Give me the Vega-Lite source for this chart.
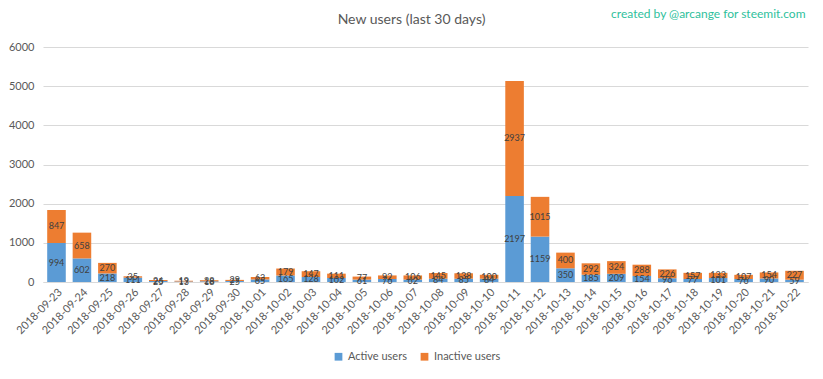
{
  "$schema": "https://vega.github.io/schema/vega-lite/v6.json",
  "autosize": {"type": "none"},
  "width": 765,
  "height": 235,
  "padding": {"left": 43, "top": 47, "right": 15, "bottom": 97},
  "background": "white",
  "title": {"text": "New users (last 30 days)", "anchor": "middle", "dx": -14, "offset": 0, "dy": 20, "fontSize": 14, "fontWeight": "normal", "color": "#595959", "font": "Lato"},
  "config": {
    "font": "Lato",
    "view": {"stroke": null},
    "axis": {"labelFont": "Lato", "titleFont": "Lato"}
  },
  "data": {"values": [
    {"date": "2018-09-23", "series": "Active users", "value": 994}, {"date": "2018-09-23", "series": "Inactive users", "value": 847},
    {"date": "2018-09-24", "series": "Active users", "value": 602}, {"date": "2018-09-24", "series": "Inactive users", "value": 658},
    {"date": "2018-09-25", "series": "Active users", "value": 218}, {"date": "2018-09-25", "series": "Inactive users", "value": 270},
    {"date": "2018-09-26", "series": "Active users", "value": 111}, {"date": "2018-09-26", "series": "Inactive users", "value": 35},
    {"date": "2018-09-27", "series": "Active users", "value": 25}, {"date": "2018-09-27", "series": "Inactive users", "value": 26},
    {"date": "2018-09-28", "series": "Active users", "value": 13}, {"date": "2018-09-28", "series": "Inactive users", "value": 19},
    {"date": "2018-09-29", "series": "Active users", "value": 18}, {"date": "2018-09-29", "series": "Inactive users", "value": 28},
    {"date": "2018-09-30", "series": "Active users", "value": 25}, {"date": "2018-09-30", "series": "Inactive users", "value": 29},
    {"date": "2018-10-01", "series": "Active users", "value": 65}, {"date": "2018-10-01", "series": "Inactive users", "value": 63},
    {"date": "2018-10-02", "series": "Active users", "value": 165}, {"date": "2018-10-02", "series": "Inactive users", "value": 179},
    {"date": "2018-10-03", "series": "Active users", "value": 128}, {"date": "2018-10-03", "series": "Inactive users", "value": 147},
    {"date": "2018-10-04", "series": "Active users", "value": 102}, {"date": "2018-10-04", "series": "Inactive users", "value": 111},
    {"date": "2018-10-05", "series": "Active users", "value": 61}, {"date": "2018-10-05", "series": "Inactive users", "value": 77},
    {"date": "2018-10-06", "series": "Active users", "value": 76}, {"date": "2018-10-06", "series": "Inactive users", "value": 92},
    {"date": "2018-10-07", "series": "Active users", "value": 62}, {"date": "2018-10-07", "series": "Inactive users", "value": 106},
    {"date": "2018-10-08", "series": "Active users", "value": 84}, {"date": "2018-10-08", "series": "Inactive users", "value": 145},
    {"date": "2018-10-09", "series": "Active users", "value": 85}, {"date": "2018-10-09", "series": "Inactive users", "value": 138},
    {"date": "2018-10-10", "series": "Active users", "value": 84}, {"date": "2018-10-10", "series": "Inactive users", "value": 100},
    {"date": "2018-10-11", "series": "Active users", "value": 2197}, {"date": "2018-10-11", "series": "Inactive users", "value": 2937},
    {"date": "2018-10-12", "series": "Active users", "value": 1159}, {"date": "2018-10-12", "series": "Inactive users", "value": 1015},
    {"date": "2018-10-13", "series": "Active users", "value": 350}, {"date": "2018-10-13", "series": "Inactive users", "value": 400},
    {"date": "2018-10-14", "series": "Active users", "value": 185}, {"date": "2018-10-14", "series": "Inactive users", "value": 292},
    {"date": "2018-10-15", "series": "Active users", "value": 209}, {"date": "2018-10-15", "series": "Inactive users", "value": 324},
    {"date": "2018-10-16", "series": "Active users", "value": 154}, {"date": "2018-10-16", "series": "Inactive users", "value": 288},
    {"date": "2018-10-17", "series": "Active users", "value": 96}, {"date": "2018-10-17", "series": "Inactive users", "value": 226},
    {"date": "2018-10-18", "series": "Active users", "value": 77}, {"date": "2018-10-18", "series": "Inactive users", "value": 157},
    {"date": "2018-10-19", "series": "Active users", "value": 101}, {"date": "2018-10-19", "series": "Inactive users", "value": 133},
    {"date": "2018-10-20", "series": "Active users", "value": 76}, {"date": "2018-10-20", "series": "Inactive users", "value": 107},
    {"date": "2018-10-21", "series": "Active users", "value": 90}, {"date": "2018-10-21", "series": "Inactive users", "value": 154},
    {"date": "2018-10-22", "series": "Active users", "value": 59}, {"date": "2018-10-22", "series": "Inactive users", "value": 227}
  ]},
  "encoding": {
    "x": {
      "field": "date", "type": "nominal", "sort": null,
      "scale": {"paddingInner": 0.27, "paddingOuter": 0.165},
      "axis": {"title": null, "labelAngle": -45, "labelColor": "#595959", "labelFontSize": 11, "ticks": false, "domainColor": "#d9d9d9", "labelPadding": 4}
    },
    "y": {
      "field": "value", "type": "quantitative", "stack": "zero",
      "scale": {"domain": [0, 6000]},
      "axis": {
        "values": [0, 1000, 2000, 3000, 4000, 5000, 6000],
        "title": "created by @arcange for steemit.com",
        "titleAngle": 0, "titleX": 762, "titleY": -30, "titleAlign": "right", "titleBaseline": "alphabetic",
        "titleColor": "#2fbf9c", "titleFontSize": 12, "titleFontWeight": "normal",
        "labelColor": "#595959", "labelFontSize": 11, "labelPadding": 9,
        "ticks": false, "domain": false, "gridColor": "#d9d9d9", "format": "d"
      }
    },
    "order": {"field": "series", "sort": "ascending"}
  },
  "layer": [
    {
      "mark": {"type": "bar"},
      "encoding": {
        "color": {
          "field": "series", "type": "nominal",
          "scale": {"domain": ["Active users", "Inactive users"], "range": ["#5b9bd5", "#ed7d31"]},
          "legend": {"title": null, "orient": "none", "direction": "horizontal", "legendX": 290, "legendY": 304, "symbolType": "square", "symbolSize": 60, "labelFontSize": 11, "labelColor": "#595959", "columnPadding": 12}
        }
      }
    },
    {
      "mark": {"type": "text", "fontSize": 9, "color": "#404040", "baseline": "middle", "yOffset": {"expr": "(scale('y', 0) - scale('y', datum.value)) / 2"}},
      "encoding": {
        "text": {"field": "value", "type": "quantitative"},
        "detail": {"field": "series"}
      }
    }
  ]
}
